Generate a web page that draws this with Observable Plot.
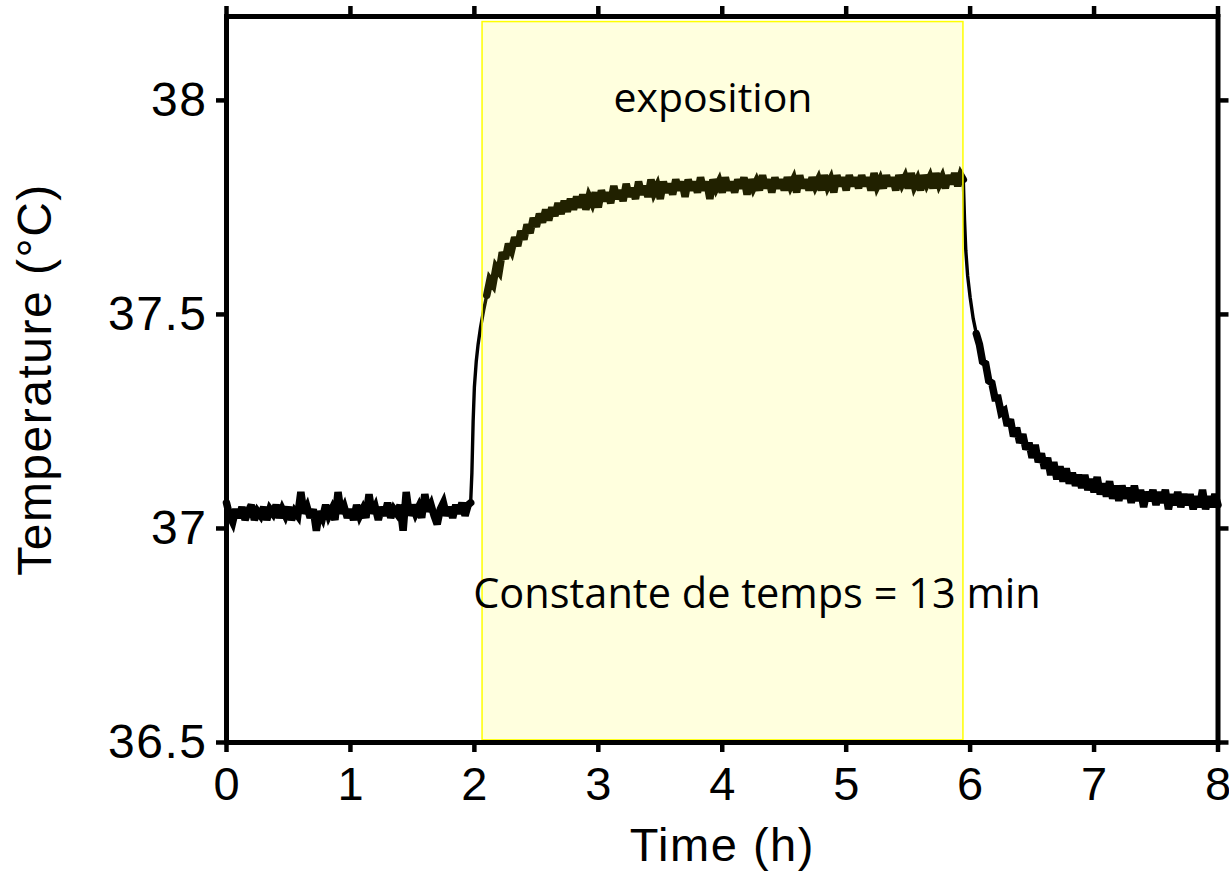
<!DOCTYPE html>
<html>
<head>
<meta charset="utf-8">
<script src="https://cdn.jsdelivr.net/npm/d3@7"></script>
<script src="https://cdn.jsdelivr.net/npm/@observablehq/plot@0.6"></script>
<style>
  html, body { margin: 0; padding: 0; background: #fff; }
  #chart svg { display: block; }
  #chart g[aria-label="y-axis tick label"] text,
  #chart g[aria-label="x-axis label"] text,
  #chart g[aria-label="y-axis label"] text { letter-spacing: 1.5px; }
</style>
</head>
<body>
<div id="chart"></div>
<script>
// ---- axis ticks ----
const xTicks = [0, 1, 2, 3, 4, 5, 6, 7, 8];
const yTicks = [36.5, 37, 37.5, 38];
const yTickLabels = ["36.5", "37", "37.5", "38"];
const xLabel = "Time (h)";
const yLabel = "Temperature (°C)";

// ---- exposure window (hours, °C) ----
const exposureHours = [2.066, 5.946];
const exposureTemps = [36.505, 38.183];
const exposureLabel = "exposition";
const timeConstantLabel = "Constante de temps = 13 min";

// ---- temperature record [hour, °C] ----
const beforeExposure = [
  [0.000,37.06],[0.025,37.03],[0.050,37.015],[0.075,37.045],[0.100,37.025],[0.125,37.05],[0.150,37.02],[0.175,37.04],
  [0.200,37.055],[0.225,37.02],[0.250,37.04],[0.275,37.03],[0.300,37.05],[0.325,37.02],[0.350,37.045],[0.375,37.035],
  [0.400,37.055],[0.425,37.025],[0.450,37.045],[0.475,37.03],[0.500,37.05],[0.525,37.02],[0.550,37.04],[0.575,37.03],
  [0.600,37.085],[0.625,37.035],[0.650,37.05],[0.675,37.025],[0.700,37.045],[0.725,36.995],[0.750,37.04],[0.775,37.025],
  [0.800,37.055],[0.825,37.03],[0.850,37.045],[0.875,37.02],[0.900,37.085],[0.925,37.035],[0.950,37.05],[0.975,37.025],
  [1.000,37.045],[1.025,37.02],[1.050,37.055],[1.075,37.03],[1.100,37.045],[1.125,37.025],[1.150,37.08],[1.175,37.035],
  [1.200,37.05],[1.225,37.02],[1.250,37.05],[1.275,37.03],[1.300,37.06],[1.325,37.025],[1.350,37.045],[1.375,37.035],
  [1.400,37.055],[1.425,36.995],[1.450,37.085],[1.475,37.03],[1.500,37.055],[1.525,37.035],[1.550,37.05],[1.575,37.025],
  [1.600,37.08],[1.625,37.04],[1.650,37.055],[1.675,37.03],[1.700,37.01],[1.725,37.045],[1.750,37.06],[1.775,37.03],
  [1.800,37.05],[1.825,37.025],[1.850,37.055],[1.875,37.035],[1.900,37.06],[1.925,37.03],[1.950,37.055],[1.970,37.06]
];
const warming = [
  [1.970,37.06],[1.980,37.13],[1.990,37.25],[2.000,37.33],[2.015,37.39],[2.030,37.43],[2.050,37.47],[2.075,37.51],[2.100,37.545],[2.125,37.58]
];
const duringExposure = [
  [2.100,37.545],
  [2.125,37.58],[2.150,37.57],[2.175,37.61],[2.200,37.60],[2.225,37.645],[2.250,37.63],[2.275,37.665],[2.300,37.65],
  [2.325,37.68],[2.350,37.66],[2.375,37.695],[2.400,37.675],[2.425,37.71],[2.450,37.69],[2.475,37.725],[2.500,37.705],
  [2.525,37.735],[2.550,37.715],[2.575,37.745],[2.600,37.72],[2.625,37.75],[2.650,37.73],[2.675,37.76],[2.700,37.735],
  [2.725,37.765],[2.750,37.74],[2.775,37.77],[2.800,37.745],[2.825,37.775],[2.850,37.75],[2.875,37.78],[2.900,37.745],
  [2.925,37.775],[2.950,37.76],[2.975,37.785],[3.000,37.75],[3.025,37.79],[3.050,37.765],[3.075,37.785],[3.100,37.76],
  [3.125,37.80],[3.150,37.77],[3.175,37.79],[3.200,37.765],[3.225,37.805],[3.250,37.775],[3.275,37.795],[3.300,37.77],
  [3.325,37.81],[3.350,37.78],[3.375,37.80],[3.400,37.775],[3.425,37.815],[3.450,37.785],[3.475,37.80],[3.500,37.77],
  [3.525,37.81],[3.550,37.785],[3.575,37.805],[3.600,37.78],[3.625,37.815],[3.650,37.79],[3.675,37.81],[3.700,37.775],
  [3.725,37.815],[3.750,37.79],[3.775,37.81],[3.800,37.785],[3.825,37.82],[3.850,37.79],[3.875,37.81],[3.900,37.77],
  [3.925,37.815],[3.950,37.795],[3.975,37.81],[4.000,37.785],[4.025,37.82],[4.050,37.79],[4.075,37.81],[4.100,37.785],
  [4.125,37.815],[4.150,37.795],[4.175,37.82],[4.200,37.78],[4.225,37.815],[4.250,37.795],[4.275,37.81],[4.300,37.79],
  [4.325,37.825],[4.350,37.795],[4.375,37.815],[4.400,37.785],[4.425,37.82],[4.450,37.795],[4.475,37.815],[4.500,37.79],
  [4.525,37.82],[4.550,37.80],[4.575,37.815],[4.600,37.785],[4.625,37.825],[4.650,37.795],[4.675,37.815],[4.700,37.79],
  [4.725,37.82],[4.750,37.80],[4.775,37.815],[4.800,37.79],[4.825,37.825],[4.850,37.80],[4.875,37.815],[4.900,37.785],
  [4.925,37.825],[4.950,37.80],[4.975,37.82],[5.000,37.79],[5.025,37.825],[5.050,37.80],[5.075,37.82],[5.100,37.795],
  [5.125,37.825],[5.150,37.80],[5.175,37.82],[5.200,37.79],[5.225,37.83],[5.250,37.80],[5.275,37.815],[5.300,37.795],
  [5.325,37.825],[5.350,37.80],[5.375,37.82],[5.400,37.79],[5.425,37.825],[5.450,37.805],[5.475,37.82],[5.500,37.795],
  [5.525,37.83],[5.550,37.80],[5.575,37.815],[5.600,37.79],[5.625,37.825],[5.650,37.805],[5.675,37.82],[5.700,37.795],
  [5.725,37.83],[5.750,37.805],[5.775,37.82],[5.800,37.795],[5.825,37.825],[5.850,37.805],[5.875,37.83],[5.900,37.80],
  [5.925,37.825],[5.945,37.815]
];
const cooling = [
  [5.945,37.815],[5.955,37.72],[5.965,37.65],[5.980,37.59],[6.000,37.54],[6.025,37.49],[6.050,37.455],[6.075,37.43]
];
const afterExposure = [
  [6.050,37.455],
  [6.075,37.43],[6.100,37.39],[6.125,37.385],[6.150,37.345],[6.175,37.34],[6.200,37.305],[6.225,37.305],[6.250,37.27],
  [6.275,37.275],[6.300,37.24],[6.325,37.255],[6.350,37.215],[6.375,37.235],[6.400,37.20],[6.425,37.22],[6.450,37.185],
  [6.475,37.20],[6.500,37.165],[6.525,37.195],[6.550,37.155],[6.575,37.175],[6.600,37.14],[6.625,37.165],[6.650,37.125],
  [6.675,37.155],[6.700,37.115],[6.725,37.145],[6.750,37.11],[6.775,37.14],[6.800,37.105],[6.825,37.13],[6.850,37.10],
  [6.875,37.125],[6.900,37.095],[6.925,37.125],[6.950,37.09],[6.975,37.115],[7.000,37.085],[7.025,37.12],[7.050,37.08],
  [7.075,37.105],[7.100,37.075],[7.125,37.11],[7.150,37.07],[7.175,37.10],[7.200,37.065],[7.225,37.10],[7.250,37.07],
  [7.275,37.095],[7.300,37.06],[7.325,37.10],[7.350,37.065],[7.375,37.09],[7.400,37.05],[7.425,37.085],[7.450,37.065],
  [7.475,37.09],[7.500,37.055],[7.525,37.085],[7.550,37.06],[7.575,37.09],[7.600,37.045],[7.625,37.08],[7.650,37.055],
  [7.675,37.085],[7.700,37.05],[7.725,37.08],[7.750,37.055],[7.775,37.08],[7.800,37.045],[7.825,37.075],[7.850,37.05],
  [7.875,37.09],[7.900,37.045],[7.925,37.075],[7.950,37.05],[7.975,37.08],[8.000,37.055]
];

const toRows = (seg) => seg.map(([hour, temp]) => ({hour, temp}));
const noisySegments = [beforeExposure, duringExposure, afterExposure];
const steepSegments = [warming, cooling];
const windowMid = (exposureHours[0] + exposureHours[1]) / 2;

const axisFont = "'Liberation Sans', Arial, Helvetica, sans-serif";
const noteFont = "'Open Sans', 'Noto Sans', sans-serif";

const chart = Plot.plot({
  width: 1229,
  height: 895,
  marginLeft: 226,
  marginRight: 11.5,
  marginTop: 16,
  marginBottom: 153,
  style: {fontFamily: axisFont, fontSize: "48px", background: "white", color: "black", overflow: "visible"},
  x: {domain: [0, 8]},
  y: {domain: [36.5, 38.196]},
  marks: [
    ...steepSegments.map(seg => Plot.line(toRows(seg), {x: "hour", y: "temp", stroke: "black", strokeWidth: 3.4, strokeLinejoin: "round"})),
    ...noisySegments.map(seg => Plot.line(toRows(seg), {x: "hour", y: "temp", stroke: "black", strokeWidth: 7.5, strokeLinejoin: "miter", strokeMiterlimit: 3})),
    Plot.rect([0], {
      x1: () => exposureHours[0], x2: () => exposureHours[1],
      y1: () => exposureTemps[0], y2: () => exposureTemps[1],
      fill: "#ffff00", fillOpacity: 0.13, stroke: "#ffff00", strokeWidth: 1.5
    }),
    Plot.text([exposureLabel], {
      x: () => windowMid, frameAnchor: "top", dx: -10, dy: 66,
      text: d => d, lineAnchor: "top", textAnchor: "middle",
      fontFamily: noteFont, fontSize: 41, fill: "black"
    }),
    Plot.text([timeConstantLabel], {
      x: () => windowMid, frameAnchor: "top", dx: 34, dy: 562,
      text: d => d, lineAnchor: "top", textAnchor: "middle",
      fontFamily: noteFont, fontSize: 41.5, fill: "black"
    }),
    Plot.frame({stroke: "black", strokeWidth: 5}),
    Plot.axisX({
      anchor: "bottom", ticks: xTicks, tickSize: 10, tickPadding: 14,
      strokeWidth: 4.5, tickFormat: d => String(d), fontSize: 47,
      label: xLabel, labelAnchor: "center", labelOffset: 118, labelArrow: "none"
    }),
    Plot.axisX({anchor: "top", ticks: xTicks, tickSize: 11, strokeWidth: 4.5, tickFormat: () => "", label: null}),
    Plot.axisY({
      anchor: "left", ticks: yTicks, tickSize: 10, tickPadding: 9,
      strokeWidth: 4.5, tickFormat: (d, i) => yTickLabels[i], fontSize: 48,
      label: yLabel, labelAnchor: "center", labelOffset: 210, labelArrow: "none"
    }),
    Plot.axisY({anchor: "right", ticks: yTicks, tickSize: 10, strokeWidth: 4.5, tickFormat: () => "", label: null})
  ]
});
document.getElementById("chart").appendChild(chart);
</script>
</body>
</html>
